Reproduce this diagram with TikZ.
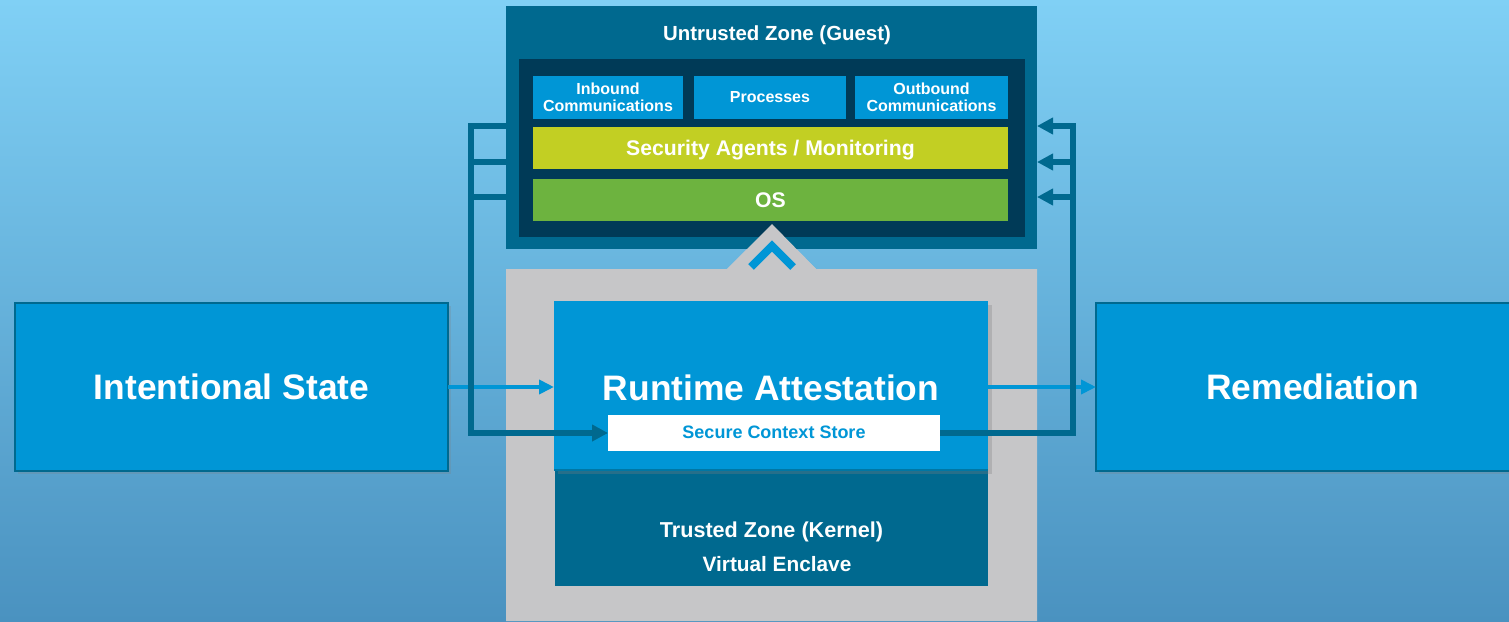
\documentclass[tikz,border=0pt]{standalone}
\usepackage{fontspec}
\setmainfont{Liberation Sans}
\usetikzlibrary{arrows.meta,shadows,calc}
\definecolor{bgtop}{HTML}{80D0F5}
\definecolor{bgbot}{HTML}{4A92C0}
\definecolor{zone}{HTML}{00698F}
\definecolor{inner}{HTML}{003A57}
\definecolor{cblue}{HTML}{0096D6}
\definecolor{lime}{HTML}{C2CF23}
\definecolor{cgreen}{HTML}{6DB33F}
\definecolor{cgray}{HTML}{C6C6C8}
\begin{document}
\begin{tikzpicture}[x=0.5pt,y=-0.5pt,
  box/.style={draw=none,inner sep=0pt,outer sep=0pt,text=white,font=\bfseries,align=center},
  capc/.style={text height=#1,text depth=0pt},
  fnt/.style={font=\bfseries\fontsize{#1}{#1}\selectfont},
  bigbox/.style={box,fnt=17.7pt,capc=12.67pt,fill=cblue,draw=zone,line width=1pt,minimum width=216.5pt,minimum height=84pt,
     drop shadow={shadow xshift=1.5pt,shadow yshift=-1.5pt,opacity=0.25}},
  smallbox/.style={box,fill=cblue,minimum height=21.5pt,font=\bfseries\fontsize{8.0}{8.6}\selectfont},
  bandbox/.style={box,fnt=10.6pt,capc=7.59pt,minimum width=237.5pt,minimum height=21pt},
  dkline/.style={draw=zone,line width=2.6pt},
  dkarrow/.style={dkline,-{Triangle[length=8pt,width=8pt]}},
  ltarrow/.style={draw=cblue,line width=2pt,-{Triangle[length=7.5pt,width=7pt]}}]
\useasboundingbox (0,0) rectangle (1509,621);
\shade[top color=bgtop,bottom color=bgbot] (0,0) rectangle (1509,621);
% gray trusted area with peak
\fill[cgray] (506,269) -- (727,269) -- (772,224) -- (816,269) -- (1037,269) -- (1037,621) -- (506,621) -- cycle;
% untrusted zone
\node[box,fill=zone,minimum width=265.5pt,minimum height=121.5pt] (ut) at (771.5,127.5) {};
\node[box,fnt=10.2pt,capc=7.3pt] (uttitle) at (777,33.5) {Untrusted Zone (Guest)};
\node[box,fill=inner,minimum width=253pt,minimum height=89pt] (in) at (772,148) {};
\node[smallbox,minimum width=75pt] (inb) at (608,97.5) {Inbound\\Communications};
\node[smallbox,minimum width=76pt] (proc) at (770,97.5) {Processes};
\node[smallbox,minimum width=76.5pt] (outb) at (931.5,97.5) {Outbound\\Communications};
\node[bandbox,fill=lime] (sec) at (770.5,148) {Security Agents / Monitoring};
\node[bandbox,fill=cgreen] (os) at (770.5,200) {OS};
% chevron (peak over the zone box)
\fill[cgray] (727,269) -- (772,224) -- (816,269) -- cycle;
\draw[cblue,line width=4pt] (751,267) -- (772,246) -- (793,267);
% trusted zone
\node[box,fill=zone,minimum width=216.5pt,minimum height=58pt] (tz) at (771.5,528) {};
\node[box,fnt=10.8pt,capc=7.73pt] (tztitle) at (771.5,529.5) {Trusted Zone (Kernel)};
\node[box,fnt=10.4pt,capc=7.45pt] (ve) at (777,563.7) {Virtual Enclave};
% runtime attestation
\node[box,fill=cblue,minimum width=217pt,minimum height=84.5pt,
   drop shadow={shadow xshift=2pt,shadow yshift=-2pt,opacity=0.3}] (rt) at (771,385.5) {};
\draw[zone!70!cblue,line width=0.8pt] (rt.south west) -- (rt.south east);
\node[box,fnt=17.7pt,capc=12.67pt] (rttext) at (771,387.5) {Runtime Attestation};
\node[box,fnt=9.0pt,capc=6.44pt,fill=white,minimum width=166pt,minimum height=18pt,text=cblue] (scs) at (774,432.5) {Secure Context Store};
% side boxes
\node[bigbox] (is) at (231.5,386.5) {Intentional State};
\node[bigbox] (rem) at (1312.5,386.5) {Remediation};
% light arrows
\draw[ltarrow] (is.east |- 0,387) -- (rt.west |- 0,387);
\draw[ltarrow] (rt.east |- 0,387) -- (rem.west |- 0,387);
% dark connectors left
\coordinate (l1) at (471,126);
\coordinate (l2) at (471,162);
\coordinate (l3) at (471,197);
\coordinate (l4) at (471,433);
\draw[dkarrow] (ut.west |- l1) -- (l1) -- (l4) -- (scs.west |- l4);
\draw[dkline] (ut.west |- l2) -- (l2);
\draw[dkline] (ut.west |- l3) -- (l3);
% dark connectors right
\coordinate (r1) at (1073,126);
\coordinate (r2) at (1073,162);
\coordinate (r3) at (1073,197);
\coordinate (r4) at (1073,433);
\draw[dkarrow] (scs.east |- r4) -- (r4) -- (r1) -- (ut.east |- r1);
\draw[dkarrow] (r2) -- (ut.east |- r2);
\draw[dkarrow] (r3) -- (ut.east |- r3);
\end{tikzpicture}
\end{document}
